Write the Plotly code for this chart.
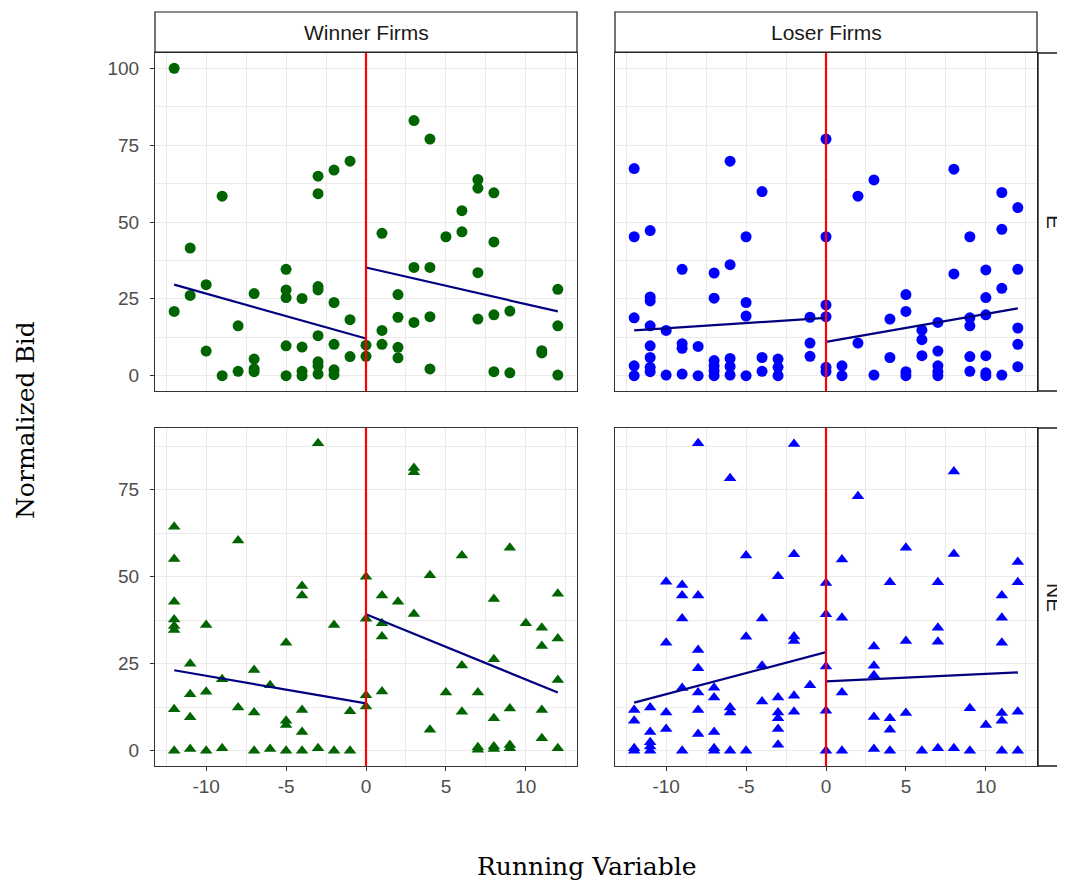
import plotly.graph_objects as go

# ---------------- data ----------------
col_labels = ["Winner Firms", "Loser Firms"]
row_labels = ["E", "NE"]
x_ticks = [-10, -5, 0, 5, 10]

# Winner firms, E  (running variable -> normalized bids)
winner_e = {
    -12: [100, 20.9], -11: [41.5, 26.1], -10: [29.6, 8.0], -9: [58.4, 0],
    -8: [16.2, 1.4], -7: [26.7, 5.4, 2.2, 1.3], -5: [34.6, 27.9, 25.4, 9.7, 0],
    -4: [25.1, 9.3, 1.4, 0], -3: [64.9, 59.2, 29.0, 27.9, 13.0, 4.5, 3.2, 0.5],
    -2: [66.9, 23.8, 10.2, 1.9, 0.3], -1: [69.8, 18.2, 6.2], 0: [9.9, 6.3],
    1: [46.3, 14.7, 10.2], 2: [26.4, 19.0, 9.2, 5.8], 3: [83.0, 35.2, 17.3],
    4: [77.0, 35.2, 19.2, 2.2], 5: [45.2], 6: [53.7, 46.8],
    7: [63.8, 61.0, 33.5, 18.4], 8: [59.5, 43.5, 19.8, 1.3], 9: [21.0, 0.9],
    11: [8.1, 7.4], 12: [28.1, 16.2, 0.2],
}
# Loser firms, E
loser_e = {
    -12: [67.4, 45.2, 18.8, 3.2, 0], -11: [47.2, 25.6, 24.3, 16.2, 9.7, 5.9, 2.7, 1.3],
    -10: [14.7, 0.2], -9: [34.6, 10.4, 8.9, 0.5], -8: [9.5, 0],
    -7: [33.4, 25.2, 4.9, 3.2, 1.6, 0], -6: [69.8, 36.1, 5.6, 3.0, 0.2],
    -5: [45.2, 23.8, 19.4, 0], -4: [59.9, 5.9, 1.4], -3: [5.4, 2.7, 0],
    -1: [19.0, 10.6, 6.3], 0: [77.0, 45.2, 23.0, 19.2, 2.7, 1.3],
    1: [3.2, 0], 2: [58.4, 10.6], 3: [63.7, 0.2], 4: [18.4, 5.9],
    5: [26.4, 20.9, 1.3, 0], 6: [14.8, 11.7, 6.5], 7: [17.3, 8.0, 3.2, 1.3, 0],
    8: [67.2, 33.1], 9: [45.2, 18.8, 16.2, 6.2, 1.4], 10: [34.4, 25.4, 19.8, 6.5, 0.9, 0],
    11: [59.6, 47.6, 28.4, 0.2], 12: [54.7, 34.6, 15.5, 10.2, 2.9],
}
# Winner firms, NE
winner_ne = {
    -12: [64.3, 55.1, 42.8, 37.7, 35.8, 34.7, 11.9, 0], -11: [25.0, 16.2, 9.6, 0.5],
    -10: [36.1, 16.9, 0], -9: [20.5, 0.7], -8: [60.4, 12.4], -7: [23.2, 11.0, 0],
    -6: [18.8, 0.5], -5: [31.0, 8.6, 7.4, 0], -4: [47.3, 44.6, 11.7, 5.4, 0],
    -3: [88.3, 0.7], -2: [36.1, 0], -1: [11.3, 0], 0: [50.0, 37.9, 15.9, 12.7],
    1: [44.6, 36.6, 32.8, 17.0], 2: [42.8], 3: [81.2, 80.0, 39.3], 4: [50.4, 6.0],
    5: [16.7], 6: [56.1, 24.5, 11.2], 7: [16.7, 1.0, 0.3], 8: [43.6, 26.3, 9.3, 1.2, 0.5],
    9: [58.3, 12.1, 1.6, 0.7], 10: [36.6], 11: [35.3, 30.1, 11.7, 3.6],
    12: [45.1, 32.2, 20.3, 0.7],
}
# Loser firms, NE
loser_ne = {
    -12: [11.7, 8.6, 0.7, 0], -11: [12.4, 5.4, 2.4, 1.2, 0], -10: [48.5, 31.0, 11.0, 6.2],
    -9: [47.6, 44.6, 38.0, 18.0, 0], -8: [88.3, 44.6, 28.9, 23.7, 16.7, 11.7, 4.8],
    -7: [18.1, 15.3, 5.4, 0.7, 0], -6: [78.3, 12.4, 11.0, 0], -5: [56.1, 32.7, 0],
    -4: [38.0, 24.4, 14.1], -3: [50.1, 15.3, 11.0, 9.3, 6.2, 1.7],
    -2: [88.1, 56.4, 32.8, 31.5, 15.8, 11.2], -1: [18.8], 0: [48.2, 39.2, 24.2, 11.5, 0],
    1: [54.9, 38.2, 16.7, 0], 2: [73.1], 3: [29.9, 24.4, 21.7, 9.7, 0.5],
    4: [48.4, 9.3, 6.0, 0], 5: [58.3, 31.5, 10.8], 6: [0], 7: [48.4, 35.3, 31.3, 0.7],
    8: [80.2, 56.5, 0.7], 9: [12.2, 0], 10: [7.4], 11: [44.6, 38.2, 31.0, 10.8, 8.6, 0],
    12: [54.2, 48.4, 11.2, 0],
}

# fitted lines (left of cutoff, right of cutoff): x endpoints and y endpoints
fit_x_left = [-12, 0]
fit_x_right = [0, 12]
winner_e_fit = ([29.6, 12.1], [35.2, 20.9])
loser_e_fit = ([14.7, 18.8], [11.0, 21.9])
winner_ne_fit = ([23.1, 13.6], [39.2, 16.7])
loser_ne_fit = ([13.8, 28.3], [19.9, 22.5])

cutoff = 0

# ---------------- figure ----------------
# the page body has an 8px margin, so the figure is placed at (8, 8) in the window
OFF = 8
W, H = 1065 - OFF, 881 - OFF
def fx(p):
    return (p - OFF) / W
def fy(p):
    return 1 - (p - OFF) / H

panels = [
    (winner_e, winner_e_fit, "#006400", "circle", ""),
    (loser_e, loser_e_fit, "#0000FF", "circle", "2"),
    (winner_ne, winner_ne_fit, "#006400", "triangle-up", "3"),
    (loser_ne, loser_ne_fit, "#0000FF", "triangle-up", "4"),
]

fig = go.Figure()
for data, fit, color, sym, sfx in panels:
    xs, ys = [], []
    for k, vals in data.items():
        for v in vals:
            xs.append(k)
            ys.append(v)
    fig.add_trace(go.Scatter(
        x=xs, y=ys, mode="markers", xaxis="x" + sfx, yaxis="y" + sfx,
        marker=dict(color=color, size=11, symbol=sym, line=dict(width=0)),
        showlegend=False, hoverinfo="x+y"))
    for fx_, fy_ in ((fit_x_left, fit[0]), (fit_x_right, fit[1])):
        fig.add_trace(go.Scatter(
            x=fx_, y=fy_, mode="lines", xaxis="x" + sfx, yaxis="y" + sfx,
            line=dict(color="#000080", width=2.2), showlegend=False))

grid = "#EBEBEB"
border = "#333333"
tickfont = dict(family="Liberation Sans, Arial, sans-serif", size=19, color="#4D4D4D")

xdom = [[fx(155), fx(577)], [fx(615), fx(1037)]]
ydom = [[fy(391), fy(53)], [fy(766), fy(428)]]

def xaxis(col, bottom, anchor):
    return dict(
        domain=xdom[col], anchor=anchor, range=[-13.2, 13.2],
        tickmode="array", tickvals=x_ticks, ticktext=[str(t) for t in x_ticks],
        showgrid=True, gridcolor=grid, gridwidth=1.4,
        minor=dict(dtick=2.5, tick0=0, showgrid=True, gridcolor=grid, gridwidth=0.9),
        showline=True, mirror=True, linecolor=border, linewidth=1,
        zeroline=False, ticks="outside" if bottom else "", ticklen=4,
        tickcolor=border, tickwidth=1.2, showticklabels=bottom, tickfont=tickfont,
        ticklabelstandoff=-1,
    )

def yaxis(row, left, anchor, rng, tv):
    return dict(
        domain=ydom[row], anchor=anchor, range=rng,
        tickmode="array", tickvals=tv, ticktext=[str(t) for t in tv],
        showgrid=True, gridcolor=grid, gridwidth=1.4,
        minor=dict(dtick=12.5, tick0=0, showgrid=True, gridcolor=grid, gridwidth=0.9),
        showline=True, mirror=True, linecolor=border, linewidth=1,
        zeroline=False, ticks="outside" if left else "", ticklen=4,
        tickcolor=border, tickwidth=1.2, showticklabels=left, tickfont=tickfont,
        ticklabelstandoff=7,
    )

top_rng = [-5, 105]
bot_rng = [-4.4, 92.7]
top_ticks = [0, 25, 50, 75, 100]
bot_ticks = [0, 25, 50, 75]

shapes = []
# red cutoff lines
for sfx in ["", "2", "3", "4"]:
    shapes.append(dict(type="line", xref="x" + sfx, yref=("y" + sfx + " domain"),
                       x0=cutoff, x1=cutoff, y0=0, y1=1,
                       line=dict(color="#FF0000", width=2.2), layer="above"))
# strips (top)
for c in range(2):
    shapes.append(dict(type="rect", xref="paper", yref="paper",
                       x0=xdom[c][0], x1=xdom[c][1], y0=fy(52), y1=fy(12),
                       fillcolor="white", line=dict(color="#1A1A1A", width=1.2), layer="above"))
# strips (right)
for r in range(2):
    shapes.append(dict(type="rect", xref="paper", yref="paper",
                       x0=fx(1038), x1=fx(1090), y0=ydom[r][0], y1=ydom[r][1],
                       fillcolor="white", line=dict(color="#1A1A1A", width=1.4), layer="above"))

stripfont = dict(family="Liberation Sans, Arial, sans-serif", size=21, color="#1A1A1A")
titlefont = dict(family="DejaVu Serif, serif", size=25, color="black")
annotations = []
for c in range(2):
    annotations.append(dict(text=col_labels[c], xref="paper", yref="paper",
                            x=(xdom[c][0] + xdom[c][1]) / 2, y=fy(32),
                            showarrow=False, font=stripfont, xanchor="center", yanchor="middle"))
for r in range(2):
    annotations.append(dict(text=row_labels[r], xref="paper", yref="paper",
                            x=fx(1055), y=(ydom[r][0] + ydom[r][1]) / 2, textangle=90,
                            showarrow=False, font=stripfont, xanchor="center", yanchor="middle"))
annotations.append(dict(text="Running Variable", xref="paper", yref="paper",
                        x=fx(586), y=fy(866), showarrow=False, font=titlefont,
                        xanchor="center", yanchor="middle"))
annotations.append(dict(text="Normalized Bid", xref="paper", yref="paper",
                        x=fx(25), y=fy(420), showarrow=False, font=titlefont, textangle=-90,
                        xanchor="center", yanchor="middle"))

fig.update_layout(
    width=W, height=H, autosize=False,
    margin=dict(l=0, r=0, t=0, b=0),
    paper_bgcolor="white", plot_bgcolor="white",
    xaxis=xaxis(0, False, "y"), xaxis2=xaxis(1, False, "y2"),
    xaxis3=xaxis(0, True, "y3"), xaxis4=xaxis(1, True, "y4"),
    yaxis=yaxis(0, True, "x", top_rng, top_ticks),
    yaxis2=yaxis(0, False, "x2", top_rng, top_ticks),
    yaxis3=yaxis(1, True, "x3", bot_rng, bot_ticks),
    yaxis4=yaxis(1, False, "x4", bot_rng, bot_ticks),
    shapes=shapes, annotations=annotations, showlegend=False,
)

fig.write_html("out.html")
